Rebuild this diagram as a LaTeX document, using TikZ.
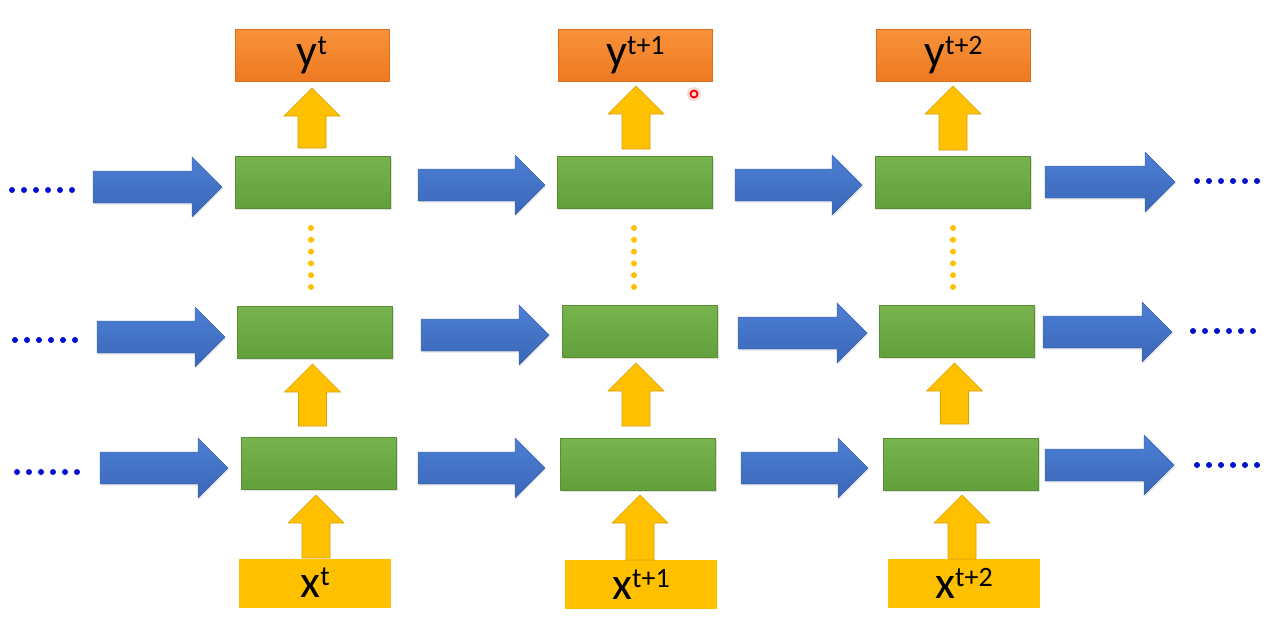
\documentclass[tikz,border=0pt]{standalone}
\usepackage{fontspec}
\setmainfont{Carlito}
\usetikzlibrary{shadows}
\definecolor{greentop}{HTML}{78B44E}
\definecolor{greenbot}{HTML}{62A03B}
\definecolor{greenedge}{HTML}{5A8F36}
\definecolor{orangetop}{HTML}{F8923A}
\definecolor{orangebot}{HTML}{EE7A22}
\definecolor{orangeedge}{HTML}{D96E1E}
\definecolor{yellowfill}{HTML}{FFC000}
\definecolor{yellowedge}{HTML}{D9A000}
\definecolor{bluetop}{HTML}{4D7FD4}
\definecolor{bluebot}{HTML}{3A67B8}
\definecolor{blueedge}{HTML}{3560AE}
\definecolor{bluedot}{HTML}{0010D0}
\newcommand{\supx}[1]{\raisebox{12pt}{\fontsize{28}{28}\selectfont #1}}
\tikzset{
  greenbox/.style={rectangle, minimum width=155pt, minimum height=52pt, inner sep=0pt,
    top color=greentop, bottom color=greenbot, draw=greenedge, line width=0.6pt,
    drop shadow={shadow xshift=1.5pt, shadow yshift=-1.5pt, opacity=0.25}},
  outbox/.style={rectangle, minimum width=154pt, minimum height=52pt, inner sep=0pt,
    top color=orangetop, bottom color=orangebot, draw=orangeedge, line width=0.6pt,
    font=\fontsize{46}{50}\selectfont, text=black},
  inbox/.style={rectangle, minimum width=152pt, minimum height=49pt, inner sep=0pt,
    fill=yellowfill, font=\fontsize{46}{50}\selectfont, text=black},
  bluearrow/.style={top color=bluetop, bottom color=bluebot, draw=blueedge, line width=0.4pt,
    drop shadow={shadow xshift=1pt, shadow yshift=-1.5pt, opacity=0.2}},
  yellowarrow/.style={fill=yellowfill, draw=yellowedge, line width=0.6pt},
  bdot/.style={fill=bluedot},
  odot/.style={fill=yellowfill}
}
\newcommand{\harr}[3]{%
  \path[bluearrow] (#1,#3-16) -- (#2-30,#3-16) -- (#2-30,#3-30) -- (#2,#3)
    -- (#2-30,#3+30) -- (#2-30,#3+16) -- (#1,#3+16) -- cycle;}
\newcommand{\varr}[3]{%
  \path[yellowarrow] (#1-14,#3) -- (#1-14,#2+28) -- (#1-28,#2+28) -- (#1,#2)
    -- (#1+28,#2+28) -- (#1+14,#2+28) -- (#1+14,#3) -- cycle;}
\newcommand{\bdots}[2]{%
  \foreach \i in {0,...,5} \fill[bdot] (#1+\i*12,#2) circle (3);}
\newcommand{\odots}[2]{%
  \foreach \i in {0,...,5} \fill[odot] (#1,#2+\i*11.8) circle (3);}
\begin{document}
\begin{tikzpicture}[x=1pt,y=-1pt]
\useasboundingbox (0,0) rectangle (1269,633);
\fill[white] (0,0) rectangle (1269,633);
% output boxes
\node[outbox] (y1) at (312,55.5) {y\supx{t}};
\node[outbox] (y2) at (635.5,55) {y\supx{t+1}};
\node[outbox] (y3) at (953.5,55) {y\supx{t+2}};
% green cells
\node[greenbox] (g11) at (312.5,182.5) {};
\node[greenbox] (g21) at (634.5,182) {};
\node[greenbox] (g31) at (953,182) {};
\node[greenbox] (g12) at (314.5,332) {};
\node[greenbox] (g22) at (639.5,331.5) {};
\node[greenbox] (g32) at (956.5,331) {};
\node[greenbox] (g13) at (318.5,463) {};
\node[greenbox] (g23) at (638,464) {};
\node[greenbox] (g33) at (961,464) {};
% input boxes
\node[inbox] (x1) at (315,583) {x\supx{t}};
\node[inbox] (x2) at (641,584) {x\supx{t+1}};
\node[inbox] (x3) at (964,583) {x\supx{t+2}};
% horizontal arrows
\harr{93}{222}{187}
\harr{418}{545}{185}
\harr{735}{862}{185}
\harr{1045}{1175}{182}
\harr{97}{225}{337}
\harr{421}{549}{335}
\harr{738}{867}{333}
\harr{1043}{1172}{332}
\harr{100}{228}{468}
\harr{418}{545}{468}
\harr{741}{868}{468}
\harr{1045}{1174}{465}
% vertical arrows
\varr{312}{88}{148}
\varr{636}{86}{149}
\varr{953}{86}{150}
\varr{312.5}{364}{426}
\varr{636}{363}{426}
\varr{954.5}{363}{424}
\varr{316}{495}{558}
\varr{640}{495}{560}
\varr{962}{495}{559}
% dotted continuations
\bdots{12}{190}
\bdots{1197}{181}
\bdots{15}{340}
\bdots{1193}{331}
\bdots{17}{472}
\bdots{1197}{465}
\odots{311}{228}
\odots{634}{228}
\odots{953}{228}
% pointer mark
\fill[red!25, opacity=0.6] (694,94) circle (7);
\draw[red, line width=1.8pt] (694,94) circle (3.5);
\end{tikzpicture}
\end{document}
